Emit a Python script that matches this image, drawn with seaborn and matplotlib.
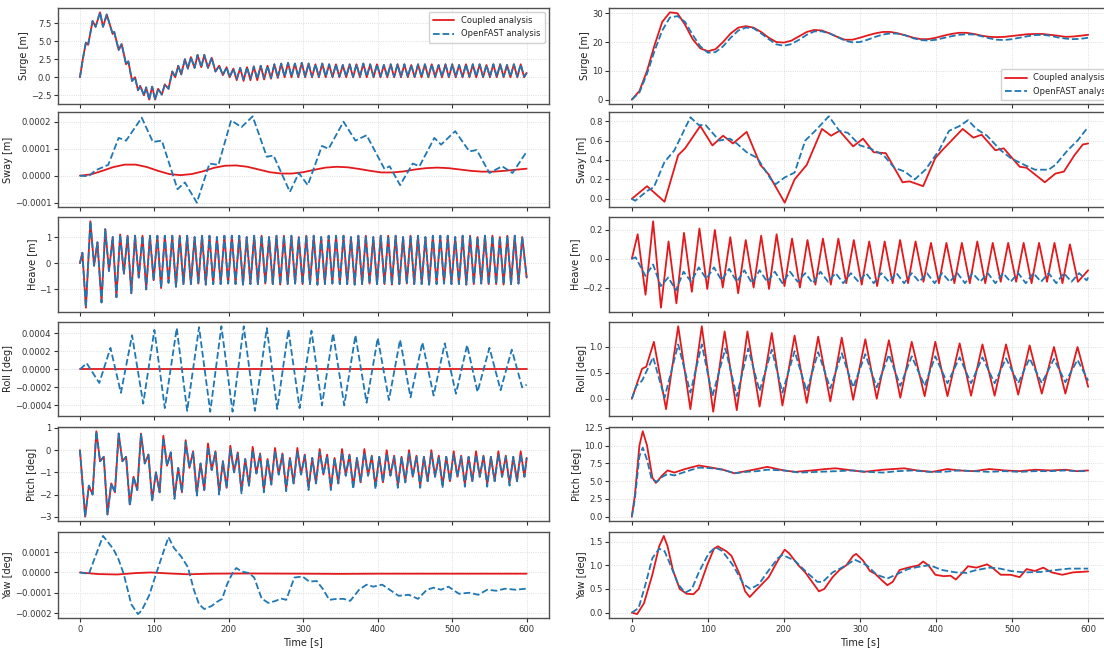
import numpy as np
import matplotlib
matplotlib.use("Agg")
import matplotlib.pyplot as plt
import seaborn as sns

# ======================= DATA =======================
# ---- LEFT column ----
# Surge [m] (transient extrema, then steady wave extrema)
surge_l_tr_t = [0,4,8,11,17,21,27,31,36,44,46,52,56,62,65,70,74,78,81,86,89,93,97,101,105,110,114,119,
                124,128,132,136,141,145,149,154,158,163,167,172,177,182,187,192,197,201]
surge_l_tr_v = [0,2.6,4.8,4.5,7.8,7.0,9.0,7.0,8.7,6.0,6.3,3.8,4.6,1.8,2.2,-0.5,0.0,-1.8,-1.2,-2.5,-1.4,-3.1,-1.3,-3.1,-1.6,-2.4,-1.0,-1.6,
                0.8,0.0,1.6,0.4,2.5,1.2,2.8,1.3,3.1,1.4,3.1,1.3,2.7,0.8,1.6,0.3,1.4,0.0]
surge_l_peaks = [1.2,1.3,1.4,1.5,1.6,1.6,1.8,1.9,2.0,1.9, 2.0,1.9,1.8,1.9,1.8,1.8,1.7,1.8,1.8,1.9,
                 1.8,1.8,1.7,1.8,1.8,1.8,1.7,1.8,1.8,1.8, 1.7,1.8,1.8,1.7,1.8,1.8,1.8,1.7,1.8,1.8, 1.7,1.8,1.8]
surge_l_troughs_openfast = [-0.2,-0.3,-0.2,-0.2,-0.1,-0.1,0.0,0.1,0.1,0.1, 0.1,0.1,0.1,0.1,0.1,0.1,0.1,0.1,0.1,0.1,
                            0.1,0.1,0.1,0.1,0.1,0.1,0.1,0.1,0.1,0.1, 0.1,0.1,0.1,0.1,0.1,0.1,0.1,0.1,0.1,0.1, 0.1,0.1,0.1]
surge_l_troughs_coupled = [-0.4,-0.5,-0.4,-0.4,-0.3,-0.2,-0.1,0.0,0.0,0.0, 0.0,0.0,0.0,0.0,0.0,0.0,0.0,0.0,0.0,0.0,
                           0.0,0.0,0.0,0.0,0.0,0.0,0.0,0.0,0.0,0.0, 0.0,0.0,0.0,0.0,0.0,0.0,0.0,0.0,0.0,0.0, 0.0,0.0,0.0]
surge_l_end = 0.6

# Sway [m]
sway_l_openfast_t = [0,11.5,21,38,52,62,83,98,110,131,141,157,174,186,203,217,232,251,260,282,
                     294,306,325,334,354,370,385,409,416,430,447,456,476,485,504,523,533,550,567,581,599]
sway_l_openfast_v = [0,-0.02,0.2,0.4,1.4,1.3,2.15,1.25,1.3,-0.5,-0.25,-1.0,0.45,0.4,2.05,1.8,2.2,0.7,0.75,-0.6,
                     0.1,-0.35,1.1,1.0,2.0,1.3,1.5,0.25,0.35,-0.35,0.45,0.35,1.4,1.15,1.65,0.9,0.95,0.1,0.35,0.1,0.85]  # x1e-4
sway_l_coupled_v = [0,0.5,1.8,3.2,4.1,4.1,3.2,1.8,0.6,0.2, 0.6,1.6,2.9,3.7,3.8,3.3,2.3,1.3,0.8,0.8,
                    1.3,2.2,3.0,3.3,3.1,2.5,1.8,1.2,1.2,1.6, 2.3,2.8,3.0,2.8,2.3,1.8,1.5,1.5,1.8,2.2, 2.6]  # x1e-5, every 15 s

# Heave [m] (both analyses coincide)
heave_l_tr_t = [0,3.3,8,14,19,23.5,29,34,39,44,49,54,59,64,69,74,79,84,89,94,99,104,109,114,119,124,129,134,139]
heave_l_tr_v = [0,0.4,-1.7,1.6,-0.1,0.8,-1.5,1.3,-0.3,1.0,-1.3,1.1,-0.4,1.05,-1.15,1.05,-0.55,1.05,-1.0,1.05,
                -0.65,1.05,-0.95,1.05,-0.75,1.05,-0.9,1.05,-0.8]
heave_l_peaks = [1.05,1.0,1.05,1.05,1.0,1.05,1.05,1.05,1.0,1.05, 1.05,1.0,1.05,1.05,1.05,1.0,1.05,1.05,1.0,1.05,
                 1.05,1.05,1.0,1.05,1.05,1.0,1.05,1.05,1.05,1.0, 1.05,1.05,1.0,1.05,1.05,1.05,1.0,1.05,1.05,1.0,
                 1.05,1.05,1.0,1.05,1.05,1.0]
heave_l_troughs = [-0.8,-0.78,-0.82,-0.8,-0.8,-0.78,-0.8,-0.82,-0.8,-0.8, -0.78,-0.8,-0.82,-0.8,-0.78,-0.8,-0.8,-0.82,-0.8,-0.78,
                   -0.8,-0.8,-0.82,-0.8,-0.78,-0.8,-0.8,-0.82,-0.8,-0.78, -0.8,-0.8,-0.82,-0.8,-0.78,-0.8,-0.8,-0.82,-0.8,-0.78,
                   -0.8,-0.8,-0.82,-0.8,-0.78]
heave_l_end = -0.55

# Roll [deg]
roll_l_t = [0,9,26,41,55,70,85,100,114,130,144,160,175,190,205,220,235,251,265,280,
            295,311,325,340,355,370,385,400,415,430,444,460,475,490,505,520,534,550,565,580,594,600]
roll_l_openfast_v = [0,0.7,-1.5,2.4,-2.6,3.8,-3.8,4.4,-4.3,4.6,-4.6,4.7,-4.7,4.8,-4.7,4.8,-4.6,4.6,-4.4,4.4,
                     -4.3,4.3,-4.0,4.0,-4.0,3.8,-3.7,3.5,-3.4,3.3,-3.1,3.0,-2.9,2.9,-2.7,2.7,-2.5,2.4,-2.3,2.2,-2.0,-1.7]  # x1e-4
roll_l_coupled_t = [0, 600]
roll_l_coupled_v = [0.0, 0.0]

# Pitch [deg] (first point at t=0, then wave extrema every ~5 s from t=7)
pitch_l_openfast = [-3.0,-1.6,-2.0,0.85,-0.5,-0.3, -2.9,-1.5,-1.9,0.75,-0.5,-0.3, -2.5,-1.2,-1.8,0.7,-0.6,-0.2,
                    -2.3,-1.0,-1.9,0.55,-0.7,-0.1, -2.2,-0.8,-1.9,0.35,-0.8,-0.1, -2.05,-0.6,-1.8,0.15,-0.9,-0.1,
                    -2.0,-0.5,-1.7,0.05,-1.0,-0.15, -1.95,-0.4,-1.6,0.0,-1.05,-0.2, -1.9,-0.4,-1.55,-0.05,-1.1,-0.2,
                    -1.85,-0.35,-1.5,-0.05,-1.1,-0.25, -1.8,-0.35,-1.5,-0.1,-1.1,-0.25, -1.8,-0.35,-1.5,-0.1,-1.15,-0.25,
                    -1.75,-0.35,-1.45,-0.1,-1.15,-0.3, -1.75,-0.3,-1.45,-0.15,-1.15,-0.3, -1.7,-0.3,-1.45,-0.15,-1.2,-0.3,
                    -1.7,-0.3,-1.4,-0.15,-1.2,-0.3, -1.7,-0.3,-1.4,-0.2,-1.2,-0.3, -1.65,-0.3,-1.4,-0.2,-1.2,-0.3,
                    -1.65,-0.3,-1.4,-0.2,-1.2,-0.3, -1.6,-0.3,-1.4,-0.2,-1.2]
pitch_l_coupled = [-3.0,-1.6,-2.0,0.85,-0.5,-0.3, -2.9,-1.5,-1.9,0.75,-0.5,-0.3, -2.45,-1.2,-1.8,0.75,-0.6,-0.2,
                   -2.25,-1.0,-1.9,0.65,-0.7,-0.1, -2.1,-0.8,-1.9,0.45,-0.8,-0.05, -1.95,-0.6,-1.8,0.3,-0.9,-0.05,
                   -1.9,-0.5,-1.7,0.2,-1.0,-0.1, -1.85,-0.4,-1.6,0.15,-1.05,-0.15, -1.8,-0.4,-1.55,0.1,-1.1,-0.15,
                   -1.75,-0.35,-1.5,0.1,-1.1,-0.2, -1.7,-0.35,-1.5,0.05,-1.1,-0.2, -1.7,-0.35,-1.5,0.05,-1.15,-0.2,
                   -1.65,-0.35,-1.45,0.05,-1.15,-0.25, -1.65,-0.3,-1.45,0.0,-1.15,-0.25, -1.6,-0.3,-1.45,0.0,-1.2,-0.25,
                   -1.6,-0.3,-1.4,0.0,-1.2,-0.25, -1.6,-0.3,-1.4,-0.05,-1.2,-0.25, -1.55,-0.3,-1.4,-0.05,-1.2,-0.25,
                   -1.55,-0.3,-1.4,-0.05,-1.2,-0.25, -1.5,-0.3,-1.4,-0.05,-1.2]
pitch_l_end = -0.35

# Yaw [deg]
yaw_l_openfast_t = [0,12,31,45,52,59,69,78,83,93, 102,112,119,126,136,145,153,160,167,177,
                    184,191,198,205,210,217,227,234,244,253, 263,270,277,288,299,308,318,326,335,345,
                    354,363,375,385,394,406,416,428,442,454, 466,475,485,495,509,523,535,547,559,571, 585,599]
yaw_l_openfast_v = [0,-0.07,1.8,1.15,0.63,-0.1,-1.57,-2.05,-1.87,-1.13, -0.1,1.0,1.74,1.22,0.78,0.26,-0.85,-1.57,-1.8,-1.65,
                    -1.45,-1.3,-0.55,-0.03,0.22,0.05,-0.03,-0.25,-1.28,-1.5, -1.4,-1.28,-1.35,-0.25,-0.2,-0.45,-0.42,-0.8,-1.35,-1.3,
                    -1.3,-1.4,-0.85,-0.6,-0.7,-0.6,-0.85,-1.15,-1.1,-1.3, -0.85,-0.75,-0.85,-0.7,-1.05,-1.0,-1.1,-0.85,-0.9,-0.8,
                    -0.85,-0.8]  # x1e-4
yaw_l_coupled_t = [0,25,50,75,95,120,145,175,220,300,350,400,600]
yaw_l_coupled_v = [0,-0.8,-1.0,-0.3,0.0,-0.5,-0.9,-0.6,-0.5,-0.6,-0.7,-0.6,-0.6]  # x1e-5

# ---- RIGHT column ----
surge_r_coupled = [0,3,10,19,27,30.3,30,26,21,17.8, 16.8,17.5,20,23,25,25.5,25,23.5,21.5,20,
                   19.8,20.5,22,23.5,24.2,24,23,21.8,20.8,20.8, 21.5,22.3,23,23.5,23.5,23,22.3,21.5,21,21,
                   21.5,22.2,22.8,23.2,23.2,22.8,22.2,21.8,21.7,21.8, 22.1,22.4,22.7,22.8,22.8,22.5,22.2,21.8,21.9,22.2, 22.5]
surge_r_openfast = [0,2.5,9,17,24,28.5,29,27,22.5,18.5, 16.3,16.5,18.5,21.5,24,25,24.8,23,21,19.2,
                    18.7,19.3,20.8,22.5,23.7,23.7,23,21.8,20.5,19.9, 20,20.8,21.8,22.6,23,22.9,22.3,21.3,20.7,20.5,
                    20.8,21.4,22,22.5,22.7,22.6,22,21.3,20.8,20.7, 21,21.5,22,22.4,22.5,22.2,21.6,21.2,21,21.1, 21.5]  # every 10 s

sway_r_coupled_t = [0,20,43,61,70,90,106,120,133,151, 169,180,201,214,230,250,262,273,291,304,
                    318,334,356,365,383,399,408,435,449,460, 478,489,510,519,543,557,568,582,593,600]
sway_r_coupled_v = [0,0.13,-0.03,0.45,0.52,0.75,0.55,0.65,0.57,0.69, 0.35,0.25,-0.04,0.2,0.35,0.72,0.65,0.7,0.54,0.62,
                    0.48,0.47,0.17,0.18,0.13,0.42,0.5,0.72,0.63,0.66, 0.5,0.52,0.33,0.32,0.17,0.26,0.28,0.45,0.56,0.57]
sway_r_openfast_t = [0,4.5,20,29,43,56,77,88,97,115, 129,138,151,165,183,189,201,214,228,241,
                     259,273,284,300,313,331,345,359,372,386, 404,417,431,442,453,467,485,498,516,530, 548,557,573,586,600]
sway_r_openfast_v = [0,-0.02,0.08,0.12,0.38,0.5,0.84,0.76,0.76,0.6, 0.62,0.57,0.48,0.42,0.2,0.15,0.22,0.27,0.6,0.7,
                     0.85,0.7,0.68,0.55,0.52,0.45,0.32,0.28,0.2,0.3, 0.5,0.7,0.75,0.81,0.72,0.65,0.5,0.42,0.35,0.3,
                     0.3,0.35,0.5,0.6,0.74]

heave_r_coupled_peaks = [0.17,0.26,0.12,0.18,0.21,0.2,0.15,0.13,0.16,0.17, 0.14,0.13,0.14,0.14,0.13,0.12,0.12,0.13,0.12,0.11,
                         0.11,0.11,0.12,0.11,0.11,0.11,0.11,0.11,0.1]
heave_r_coupled_troughs = [-0.25,-0.34,-0.31,-0.23,-0.21,-0.2,-0.24,-0.2,-0.21,-0.19, -0.2,-0.18,-0.18,-0.17,-0.18,-0.19,-0.17,-0.17,-0.16,-0.17,
                           -0.17,-0.17,-0.17,-0.16,-0.16,-0.17,-0.16,-0.17,-0.16]
heave_r_coupled_end = -0.08
heave_r_openfast_v = [0,0.01, -0.12,-0.04,-0.19,-0.13,-0.22,-0.09,-0.16,-0.06,-0.14,-0.06,-0.15,-0.07,-0.16,-0.08,-0.17,-0.08,
                      -0.16,-0.09,-0.17,-0.09,-0.16,-0.1,-0.17,-0.09,-0.16,-0.1,-0.17,-0.1,-0.16,-0.1,-0.17,-0.1,-0.16,-0.1,
                      -0.17,-0.1,-0.16,-0.1,-0.17,-0.1,-0.16,-0.1,-0.17,-0.1,-0.16,-0.1,-0.17,-0.1,-0.16,-0.1,-0.17,-0.1,
                      -0.16,-0.1,-0.17,-0.1,-0.16,-0.1,-0.15, -0.13]

roll_r_coupled_t = [0,13.5,19,29,45,61,77,92,107,122, 138,152,168,184,198,214,230,245,261,276,
                    291,307,322,338,353,368,385,399,415,431, 446,461,477,492,508,523,539,555,570,586, 600]
roll_r_coupled_v = [0,0.58,0.62,1.1,-0.2,1.4,-0.2,1.4,-0.25,1.3, -0.22,1.3,-0.15,1.27,-0.13,1.22,-0.08,1.2,-0.05,1.18,
                    -0.02,1.15,0.0,1.13,0.02,1.1,0.05,1.1,0.05,1.07, 0.06,1.05,0.06,1.05,0.08,1.03,0.1,1.0,0.1,1.0, 0.23]
roll_r_openfast_t = [0,6,13.5,28,43,61,77,92,106,123, 138,153,168,184,198,214,230,245,261,276,
                     291,307,322,338,353,368,385,399,415,431, 446,461,477,492,508,523,539,555,570,586, 600]
roll_r_openfast_v = [0,0.25,0.35,0.8,0.02,1.05,0.12,1.05,0.05,0.97, 0.05,0.97,0.15,0.95,0.12,0.92,0.15,0.9,0.2,0.88,
                     0.22,0.86,0.22,0.85,0.25,0.82,0.25,0.82,0.3,0.8, 0.3,0.8,0.3,0.78,0.3,0.78,0.3,0.77,0.32,0.75, 0.35]

pitch_r_coupled_t = [0,4,10,14.4,20,27,31.6,40,47,56, 70,88,105,120,135,150,160,178,200,215,
                     237,255,268,290,305,330,358,375,395,415, 430,450,470,490,510,530,550,570,585,600]
pitch_r_coupled_v = [0,3.0,10.0,12.0,10.0,5.5,4.75,5.8,6.5,6.2, 6.7,7.2,6.9,6.6,6.1,6.4,6.6,7.0,6.5,6.3,
                     6.5,6.7,6.8,6.5,6.3,6.6,6.8,6.5,6.3,6.7, 6.5,6.4,6.7,6.5,6.4,6.6,6.5,6.6,6.4,6.5]
pitch_r_openfast_t = [0,4,10,14.4,20,26,33,40,47,56, 70,88,105,120,135,150,165,178,200,220,
                      245,270,290,310,330,350,370,390,410,430, 450,470,490,510,530,550,570,585,600]
pitch_r_openfast_v = [0,2.5,8.5,9.7,8.0,5.3,4.9,5.6,6.0,5.8, 6.3,6.9,6.8,6.6,6.1,6.3,6.4,6.6,6.5,6.2,
                      6.3,6.4,6.5,6.3,6.2,6.4,6.5,6.3,6.3,6.5, 6.4,6.3,6.4,6.3,6.4,6.4,6.5,6.4,6.4]

yaw_r_coupled_t = [0,7,16,27,36,42,47,54,63,72, 81,88,99,108,113,124,131,142,149,155,
                   162,171,180,192,201,207,219,228,237,246, 253,264,273,282,291,295,304,313,320,329,
                   336,343,352,363,377,383,390,399,410,419, 426,435,442,453,467,474,485,498,510,519, 530,541,552,566,580,600]
yaw_r_coupled_v = [0,-0.03,0.2,0.8,1.4,1.62,1.4,0.9,0.5,0.4, 0.39,0.5,1.0,1.35,1.4,1.3,1.2,0.8,0.45,0.33,
                   0.45,0.6,0.75,1.1,1.33,1.25,1.0,0.85,0.65,0.45, 0.5,0.75,0.9,1.0,1.2,1.24,1.1,0.88,0.82,0.68,
                   0.58,0.65,0.9,0.95,1.0,1.08,1.0,0.8,0.77,0.78, 0.7,0.85,0.98,0.95,1.02,0.95,0.8,0.8,0.75,0.92,
                   0.88,0.95,0.85,0.8,0.85,0.87]
yaw_r_openfast_t = [0,9,18,27,36,43,51,61,70,79, 88,101,110,119,133,147,156,167,178,192,
                    198,214,230,244,251,264,282,293,309,322, 336,347,363,381,392,408,426,440,453,471, 484,498,516,538,557,575,600]
yaw_r_openfast_v = [0,0.1,0.6,1.15,1.35,1.3,1.0,0.6,0.42,0.5, 0.85,1.25,1.38,1.3,1.0,0.6,0.5,0.6,0.85,1.15,
                    1.22,1.1,0.85,0.65,0.65,0.85,1.0,1.12,1.0,0.8, 0.72,0.8,0.92,0.98,1.0,0.9,0.85,0.84,0.9,0.95,
                    0.93,0.88,0.85,0.86,0.9,0.93,0.93]

ylabels = ["Surge [m]", "Sway [m]", "Heave [m]", "Roll [deg]", "Pitch [deg]", "Yaw [deg]"]
legend_labels = ["Coupled analysis", "OpenFAST analysis"]
xticks = [0, 100, 200, 300, 400, 500, 600]
yticks_left = [[-2.5, 0.0, 2.5, 5.0, 7.5], [-0.0001, 0.0, 0.0001, 0.0002], [-1, 0, 1],
               [-0.0004, -0.0002, 0.0, 0.0002, 0.0004], [-3, -2, -1, 0, 1], [-0.0002, -0.0001, 0.0, 0.0001]]
yticks_right = [[0, 10, 20, 30], [0.0, 0.2, 0.4, 0.6, 0.8], [-0.2, 0.0, 0.2], [0.0, 0.5, 1.0],
                [0.0, 2.5, 5.0, 7.5, 10.0, 12.5], [0.0, 0.5, 1.0, 1.5]]

# ======================= assemble series =======================
def merge(*parts):
    t = np.concatenate([np.asarray(p[0], float) for p in parts])
    v = np.concatenate([np.asarray(p[1], float) for p in parts])
    o = np.argsort(t, kind="stable")
    return t[o], v[o]

sp_t = np.linspace(206, 592, len(surge_l_peaks))
st_t = sp_t + 4.6
surge_l_c = merge((surge_l_tr_t, surge_l_tr_v), (sp_t, surge_l_peaks), (st_t, surge_l_troughs_coupled), ([600], [surge_l_end]))
surge_l_o = merge((surge_l_tr_t, surge_l_tr_v), (sp_t, surge_l_peaks), (st_t, surge_l_troughs_openfast), ([600], [surge_l_end]))

sway_l_o = (np.array(sway_l_openfast_t, float), np.array(sway_l_openfast_v) * 1e-4)
sway_l_c = (np.arange(0, 601, 15.0), np.array(sway_l_coupled_v) * 1e-5)

hp_t = np.linspace(144, 594, len(heave_l_peaks))
ht_t = np.linspace(149, 589, len(heave_l_troughs))
heave_l = merge((heave_l_tr_t, heave_l_tr_v), (hp_t, heave_l_peaks), (ht_t, heave_l_troughs), ([600], [heave_l_end]))

roll_l_o = (np.array(roll_l_t, float), np.array(roll_l_openfast_v) * 1e-4)
roll_l_c = (np.array(roll_l_coupled_t, float), np.array(roll_l_coupled_v))

pt = np.linspace(7, 597, len(pitch_l_openfast))
pitch_l_o = merge(([0], [0]), (pt, pitch_l_openfast), ([600], [pitch_l_end]))
pitch_l_c = merge(([0], [0]), (pt, pitch_l_coupled), ([600], [pitch_l_end]))

yaw_l_o = (np.array(yaw_l_openfast_t, float), np.array(yaw_l_openfast_v) * 1e-4)
yaw_l_c = (np.array(yaw_l_coupled_t, float), np.array(yaw_l_coupled_v) * 1e-5)

t10 = np.arange(0, 601, 10.0)
surge_r_c = (t10, np.array(surge_r_coupled))
surge_r_o = (t10, np.array(surge_r_openfast))
sway_r_c = (np.array(sway_r_coupled_t, float), np.array(sway_r_coupled_v))
sway_r_o = (np.array(sway_r_openfast_t, float), np.array(sway_r_openfast_v))
hrp_t = np.linspace(7.7, 576, len(heave_r_coupled_peaks))
hrt_t = np.linspace(18, 586.5, len(heave_r_coupled_troughs))
heave_r_c = merge(([0], [0]), (hrp_t, heave_r_coupled_peaks), (hrt_t, heave_r_coupled_troughs), ([600], [heave_r_coupled_end]))
heave_r_o = (np.array([0, 5] + list(range(18, 599, 10)) + [600], float), np.array(heave_r_openfast_v))
roll_r_c = (np.array(roll_r_coupled_t, float), np.array(roll_r_coupled_v))
roll_r_o = (np.array(roll_r_openfast_t, float), np.array(roll_r_openfast_v))
pitch_r_c = (np.array(pitch_r_coupled_t, float), np.array(pitch_r_coupled_v))
pitch_r_o = (np.array(pitch_r_openfast_t, float), np.array(pitch_r_openfast_v))
yaw_r_c = (np.array(yaw_r_coupled_t, float), np.array(yaw_r_coupled_v))
yaw_r_o = (np.array(yaw_r_openfast_t, float), np.array(yaw_r_openfast_v))

left = [(surge_l_c, surge_l_o), (sway_l_c, sway_l_o), (heave_l, heave_l), (roll_l_c, roll_l_o),
        (pitch_l_c, pitch_l_o), (yaw_l_c, yaw_l_o)]
right = [(surge_r_c, surge_r_o), (sway_r_c, sway_r_o), (heave_r_c, heave_r_o), (roll_r_c, roll_r_o),
         (pitch_r_c, pitch_r_o), (yaw_r_c, yaw_r_o)]

# ======================= plotting =======================
sns.set_theme(style="whitegrid")
plt.rcParams.update({
    "font.family": ["DejaVu Sans"],
    "axes.edgecolor": "#505050",
    "axes.linewidth": 1.0,
    "grid.color": "#d4d4d4",
    "grid.linewidth": 0.6,
    "grid.linestyle": ":",
    "xtick.bottom": True, "ytick.left": True,
    "xtick.major.size": 3, "ytick.major.size": 3,
    "xtick.major.width": 0.8, "ytick.major.width": 0.8,
    "xtick.color": "#333333", "ytick.color": "#333333",
    "xtick.labelsize": 6.1, "ytick.labelsize": 6.1,
    "axes.labelsize": 7, "axes.labelcolor": "#222222",
})

RED = "#e3191c"
BLUE = "#1f77b4"
W, H = 1104, 653
fig = plt.figure(figsize=(W / 100, H / 100), dpi=100)
rows_px = [(8, 104), (112, 207), (217, 312), (322, 416), (427, 521), (532, 618)]
cols_px = [(57.6, 549), (609, 1111)]

for c, (col, yts) in enumerate([(left, yticks_left), (right, yticks_right)]):
    for r, ((cpl, ofs), ylab, yt) in enumerate(zip(col, ylabels, yts)):
        x0, x1 = cols_px[c]
        y0, y1 = rows_px[r]
        ax = fig.add_axes([x0 / W, 1 - y1 / H, (x1 - x0) / W, (y1 - y0) / H])
        sns.lineplot(x=cpl[0], y=cpl[1], ax=ax, color=RED, lw=1.3, sort=False, estimator=None,
                     label=legend_labels[0])
        sns.lineplot(x=ofs[0], y=ofs[1], ax=ax, color=BLUE, lw=1.3, linestyle="--", sort=False,
                     estimator=None, label=legend_labels[1])
        ax.set_xlim(-30, 630)
        ax.set_xticks(xticks)
        ax.set_yticks(yt)
        ax.set_ylabel(ylab, labelpad=1.5)
        ax.set_xlabel("")
        if r < 5:
            ax.set_xticklabels([])
        else:
            ax.set_xlabel("Time [s]", labelpad=2)
        ax.tick_params(axis="y", pad=1.5)
        ax.tick_params(axis="x", pad=2)
        if r == 0:
            if c == 0:
                ax.legend(loc="upper right", fontsize=6, frameon=True, framealpha=0.9,
                          edgecolor="#cccccc", handlelength=2.6, borderpad=0.5)
            else:
                ax.legend(loc="lower right", bbox_to_anchor=(1.02, 0.0), fontsize=6, frameon=True,
                          framealpha=0.9, edgecolor="#cccccc", handlelength=2.6, borderpad=0.5)
        else:
            lg = ax.get_legend()
            if lg is not None:
                lg.remove()

fig.savefig("out.png", dpi=100)
